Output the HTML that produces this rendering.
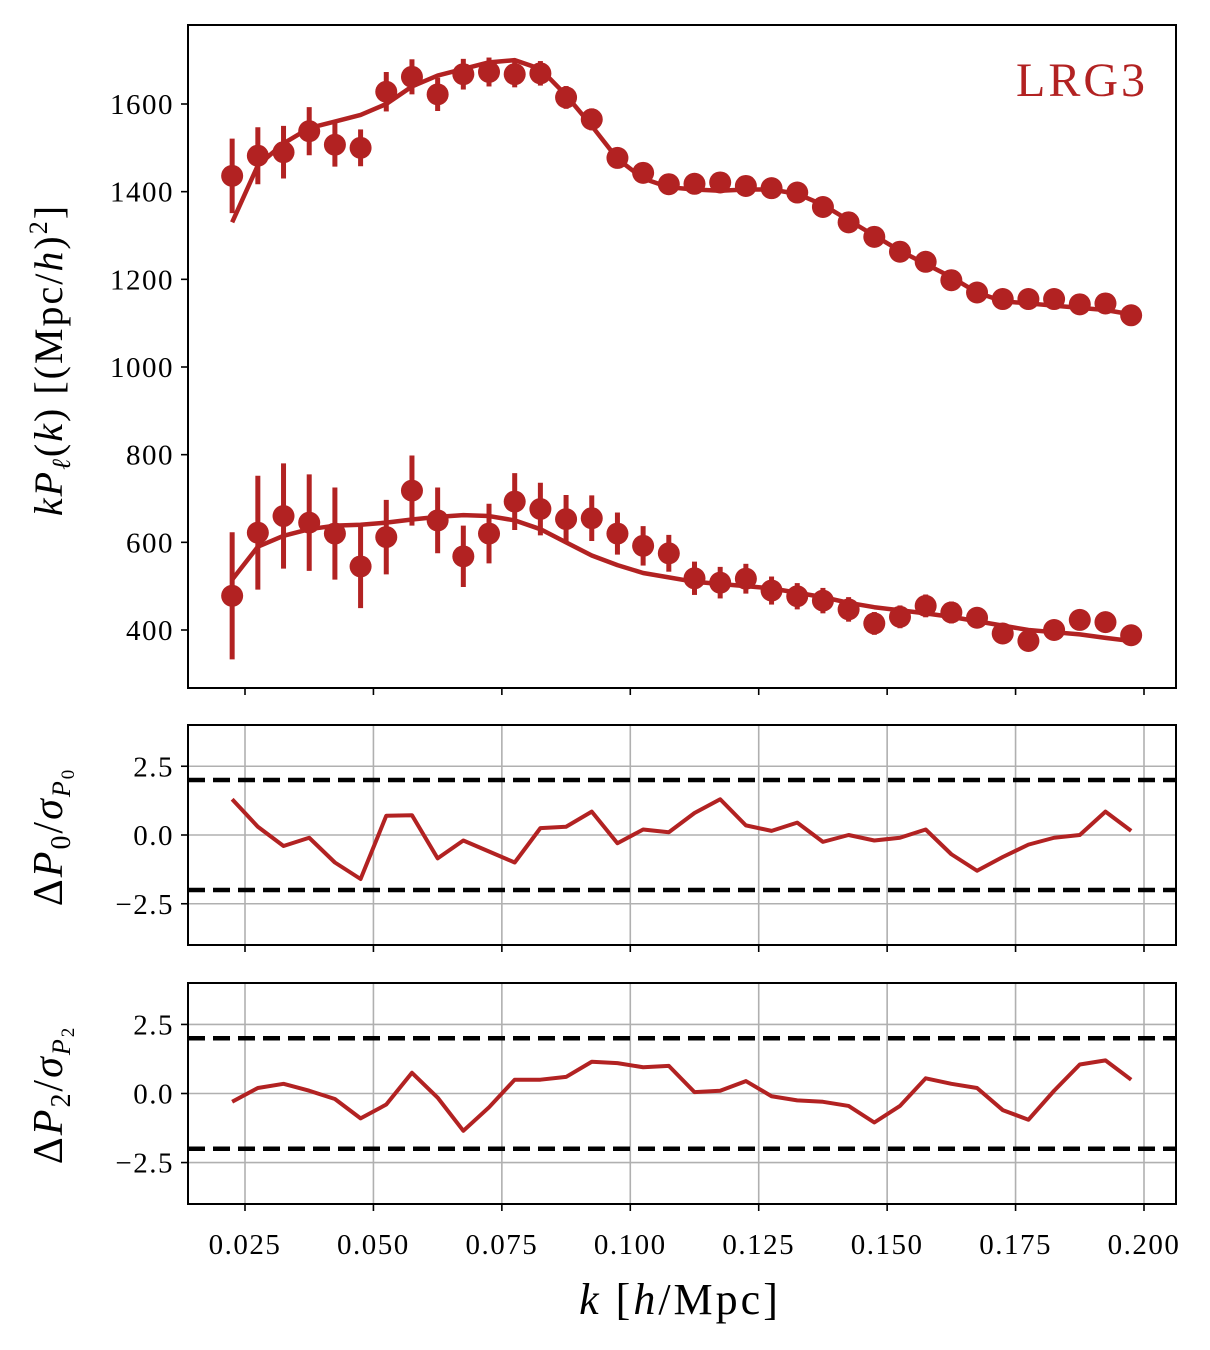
<!DOCTYPE html>
<html><head><meta charset="utf-8"><style>
body{margin:0;background:#fff}
svg{display:block;font-family:"Liberation Serif","DejaVu Serif",serif}
</style></head><body>
<svg id="c" width="1210" height="1350" xmlns="http://www.w3.org/2000/svg"></svg>
<script>
const kVals=[0.0225,0.0275,0.0325,0.0375,0.0425,0.0475,0.0525,0.0575,0.0625,0.0675,0.0725,0.0775,0.0825,0.0875,0.0925,0.0975,0.1025,0.1075,0.1125,0.1175,0.1225,0.1275,0.1325,0.1375,0.1425,0.1475,0.1525,0.1575,0.1625,0.1675,0.1725,0.1775,0.1825,0.1875,0.1925,0.1975];
const p0Data=[1436,1482,1490,1538,1507,1500,1628,1662,1622,1668,1673,1668,1670,1615,1565,1477,1443,1417,1418,1421,1413,1408,1398,1365,1330,1297,1263,1240,1198,1170,1155,1155,1155,1143,1145,1118];
const p0Err=[85,65,60,55,50,42,45,40,38,35,33,30,28,26,25,22,20,19,18,18,17,16,16,15,15,14,14,14,13,13,13,12,12,12,12,12];
const p0Model=[1330,1460,1510,1545,1560,1575,1600,1640,1665,1680,1695,1700,1680,1620,1550,1475,1430,1410,1405,1402,1405,1405,1395,1370,1335,1300,1265,1235,1205,1170,1150,1145,1140,1135,1130,1120];
const p2Data=[478,622,660,645,620,545,612,718,650,568,620,693,676,653,655,620,592,575,518,508,517,490,477,467,447,415,430,455,440,428,392,375,400,423,418,388];
const p2Err=[145,130,120,110,105,95,85,80,75,70,68,65,60,55,52,48,45,42,38,36,34,32,30,29,28,26,26,26,25,24,24,24,23,22,22,20];
const p2Model=[515,590,615,630,638,640,645,652,658,662,660,650,630,600,570,548,530,520,510,505,500,495,485,475,462,452,445,438,430,420,410,400,395,390,382,375];
const r0=[1.3,0.3,-0.4,-0.1,-1.0,-1.6,0.7,0.72,-0.85,-0.2,-0.6,-1.0,0.25,0.3,0.85,-0.3,0.2,0.1,0.8,1.3,0.35,0.15,0.45,-0.25,0.0,-0.2,-0.1,0.2,-0.7,-1.3,-0.8,-0.35,-0.1,0.0,0.85,0.15];
const r2=[-0.3,0.2,0.35,0.1,-0.2,-0.9,-0.4,0.75,-0.15,-1.35,-0.5,0.5,0.5,0.6,1.15,1.1,0.95,1.0,0.05,0.1,0.45,-0.1,-0.25,-0.3,-0.45,-1.05,-0.45,0.55,0.35,0.2,-0.6,-0.95,0.1,1.05,1.2,0.5];
const xTicks=[0.025,0.05,0.075,0.1,0.125,0.15,0.175,0.2];
const xTickLabels=["0.025","0.050","0.075","0.100","0.125","0.150","0.175","0.200"];
const yTicksTop=[400,600,800,1000,1200,1400,1600];
const yTicksRes=[2.5,0,-2.5];
const yTickResLabels=["2.5","0.0","\u22122.5"];

const C="#b22222",NS="http://www.w3.org/2000/svg",svg=document.getElementById('c');
function el(t,a,txt){const e=document.createElementNS(NS,t);for(const k in a)e.setAttribute(k,a[k]);if(txt!=null)e.textContent=txt;svg.appendChild(e);return e;}
const L=188,R=1176;
const X=k=>245+(k-0.025)*(899/0.175);
const Ytop=v=>630-(v-400)*(526/1200);
const panels=[{t:725,b:945},{t:983,b:1204}];
const Yres=(p,v)=>{const m=(p.t+p.b)/2;return m-v*(p.b-p.t)/8;};
const TF={'font-size':29,'letter-spacing':1.5};

panels.forEach((p,i)=>{
  xTicks.forEach(k=>{const g=el('line',{x1:X(k),x2:X(k),y1:p.t,y2:p.b,stroke:'#b0b0b0','stroke-width':1.6});
    });
  yTicksRes.forEach(v=>{const g=el('line',{x1:L,x2:R,y1:Yres(p,v),y2:Yres(p,v),stroke:'#b0b0b0','stroke-width':1.6});
    });
  [2,-2].forEach(v=>{const d=el('line',{x1:L,x2:R,y1:Yres(p,v),y2:Yres(p,v),stroke:'#000','stroke-width':4.5,'stroke-dasharray':'17,8'});
    });
  const arr=i==0?r0:r2;
  const pl=el('polyline',{points:kVals.map((k,j)=>X(k)+','+Yres(p,arr[j])).join(' '),fill:'none',stroke:C,'stroke-width':4,'stroke-linejoin':'round'});
  
  const fr=el('rect',{x:L,y:p.t,width:R-L,height:p.b-p.t,fill:'none',stroke:'#000','stroke-width':2});
  
  yTicksRes.forEach((v,j)=>{el('line',{x1:L-7,x2:L,y1:Yres(p,v),y2:Yres(p,v),stroke:'#000','stroke-width':1.6});
    const t=el('text',Object.assign({x:L-14,y:Yres(p,v)+10,'text-anchor':'end'},TF),yTickResLabels[j]);
    });
  xTicks.forEach(k=>el('line',{x1:X(k),x2:X(k),y1:p.b,y2:p.b+7,stroke:'#000','stroke-width':1.6}));
});
[[p0Model,'p0-model-line'],[p2Model,'p2-model-line']].forEach(([m,n])=>{
  const pl=el('polyline',{points:kVals.map((k,j)=>X(k)+','+Ytop(m[j])).join(' '),fill:'none',stroke:C,'stroke-width':4.5,'stroke-linejoin':'round'});
  
});
[[p0Data,p0Err,'p0'],[p2Data,p2Err,'p2']].forEach(([d,e,n])=>{
  kVals.forEach((k,j)=>{
    const b=el('line',{x1:X(k),x2:X(k),y1:Ytop(d[j]-e[j]),y2:Ytop(d[j]+e[j]),stroke:C,'stroke-width':5});
    
    const c=el('circle',{cx:X(k),cy:Ytop(d[j]),r:11,fill:C});
    
  });
});
const fr=el('rect',{x:L,y:25,width:R-L,height:663,fill:'none',stroke:'#000','stroke-width':2});

yTicksTop.forEach(v=>{el('line',{x1:L-7,x2:L,y1:Ytop(v),y2:Ytop(v),stroke:'#000','stroke-width':1.6});
  const t=el('text',Object.assign({x:L-14,y:Ytop(v)+10,'text-anchor':'end'},TF),String(v));
  });
xTicks.forEach((k,j)=>{el('line',{x1:X(k),x2:X(k),y1:688,y2:695,stroke:'#000','stroke-width':1.6});
  const t=el('text',Object.assign({x:X(k),y:1254,'text-anchor':'middle'},TF),xTickLabels[j]);
  });
</script>
<svg style="position:absolute;left:0;top:0" width="1210" height="1350" xmlns="http://www.w3.org/2000/svg">
<g font-family="Liberation Serif, DejaVu Serif, serif">
<text x="1148" y="96" text-anchor="end" font-size="48" letter-spacing="3" fill="#b22222">LRG3</text>
<text transform="translate(62,360) rotate(-90)" text-anchor="middle" font-size="40" letter-spacing="2"><tspan font-style="italic">kP</tspan><tspan font-size="26" font-style="italic" dy="8">ℓ</tspan><tspan dy="-8">(</tspan><tspan font-style="italic">k</tspan>) [(Mpc/<tspan font-style="italic">h</tspan>)<tspan font-size="26" dy="-15">2</tspan><tspan dy="15">]</tspan></text>
<text transform="translate(62,837) rotate(-90)" text-anchor="middle" font-size="42" letter-spacing="2">Δ<tspan font-style="italic">P</tspan><tspan font-size="28" dy="8">0</tspan><tspan dy="-8">/</tspan><tspan font-style="italic">σ</tspan><tspan font-size="26" font-style="italic" dy="8">P</tspan><tspan font-size="19" dy="4">0</tspan></text>
<text transform="translate(62,1095) rotate(-90)" text-anchor="middle" font-size="42" letter-spacing="2">Δ<tspan font-style="italic">P</tspan><tspan font-size="28" dy="8">2</tspan><tspan dy="-8">/</tspan><tspan font-style="italic">σ</tspan><tspan font-size="26" font-style="italic" dy="8">P</tspan><tspan font-size="19" dy="4">2</tspan></text>
<text x="680" y="1314" text-anchor="middle" font-size="44" letter-spacing="3"><tspan font-style="italic">k</tspan> [<tspan font-style="italic">h</tspan>/Mpc]</text>
</g></svg>
</body></html>
